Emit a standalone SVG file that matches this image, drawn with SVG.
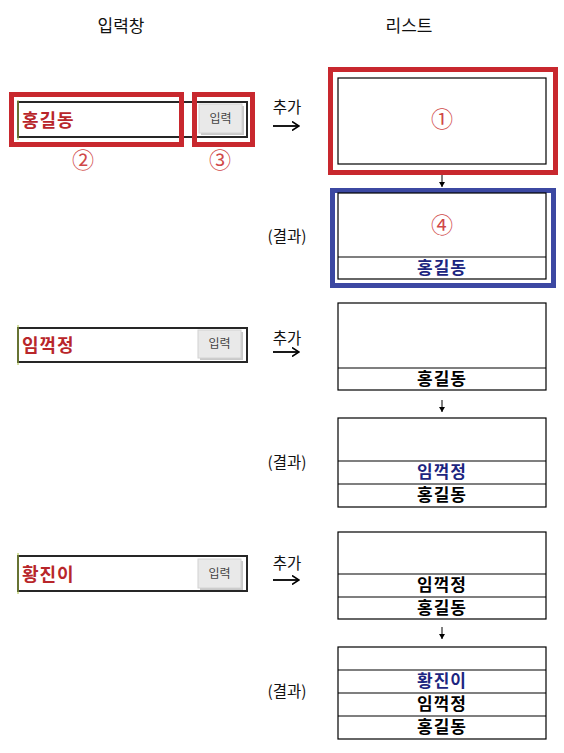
<svg xmlns="http://www.w3.org/2000/svg" width="564" height="753" viewBox="0 0 564 753">
<style>
  .kr { font-family: "Noto Sans CJK KR", "Noto Sans", sans-serif; }
  .hdr { font-size: 17px; fill: #111; text-anchor: middle; }
  .lbl { font-size: 15.5px; fill: #111; text-anchor: middle; }
  .inp { fill: #fff; stroke: #262626; stroke-width: 2; }
  .edge { stroke: #a8c040; stroke-width: 1; }
  .btn { fill: #e9e9e9; stroke: #d2d2d2; stroke-width: 1; }
  .btnsh { fill: #c9c9c9; }
  .btntx { font-size: 12px; fill: #444; text-anchor: middle; }
  .name { font-size: 18px; font-weight: bold; fill: #b8262a; letter-spacing: 1px; }
  .box { fill: #fff; stroke: #000; stroke-width: 1.2; }
  .div { stroke: #000; stroke-width: 1.2; }
  .item { font-size: 17px; font-weight: bold; fill: #000; text-anchor: middle; letter-spacing: 1px; }
  .new { fill: #1c2580; }
  .num { font-size: 22px; fill: #d04848; text-anchor: middle; }
  .hl-red { fill: none; stroke: #c8282e; stroke-width: 5; }
  .hl-blue { fill: none; stroke: #3c48a2; stroke-width: 5; }
  .conn { stroke: #000; stroke-width: 1.8; fill: none; }
  .conn-s { stroke: #000; stroke-width: 1; fill: none; }
</style>
<defs>
  <marker id="ah" markerWidth="8" markerHeight="10" refX="7" refY="5" orient="auto" markerUnits="userSpaceOnUse">
    <path d="M0,0.5 L7,5 L0,9.5" fill="none" stroke="#000" stroke-width="1.6"/>
  </marker>
  <marker id="ahs" markerWidth="6" markerHeight="6" refX="5" refY="3" orient="auto" markerUnits="userSpaceOnUse">
    <path d="M0,0 L5,3 L0,6 Z" fill="#000"/>
  </marker>
</defs>

<g id="headers" class="kr">
  <text class="hdr" x="121" y="32">입력창</text>
  <text class="hdr" x="409" y="32">리스트</text>
</g>

<!-- Row 1 -->
<g id="input1" class="kr">
  <rect class="inp" x="18" y="102" width="229" height="35"/>
  <line class="edge" x1="18" y1="100" x2="18" y2="140"/>
  <rect class="btnsh" x="201" y="106" width="43" height="29"/>
  <rect class="btn" x="199" y="104" width="43" height="29"/>
  <text class="btntx" x="220.5" y="123">입력</text>
  <text class="name" x="22" y="127">홍길동</text>
</g>
<g id="highlight2">
  <rect class="hl-red" x="11.5" y="94.5" width="170" height="50"/>
  <text class="num kr" x="83" y="168">②</text>
</g>
<g id="highlight3">
  <rect class="hl-red" x="194.5" y="94.5" width="58" height="50"/>
  <text class="num kr" x="220" y="168">③</text>
</g>
<g id="add1" class="kr"><text class="lbl" x="287" y="113">추가</text></g>
<g id="list1a">
  <rect class="hl-red" x="330.5" y="69.5" width="225" height="103"/>
  <rect class="box" x="338" y="78" width="208" height="86"/>
  <text class="num kr" x="442" y="127">①</text>
</g>
<g id="result1" class="kr"><text class="lbl" x="287" y="242">(결과)</text></g>
<g id="list1b" class="kr">
  <rect class="hl-blue" x="332.5" y="190.5" width="221" height="95"/>
  <rect class="box" x="338" y="193" width="208" height="86"/>
  <line class="div" x1="338" y1="257" x2="546" y2="257"/>
  <text class="num" x="442" y="233">④</text>
  <text class="item new" x="442" y="274">홍길동</text>
</g>

<!-- Row 2 -->
<g id="input2" class="kr">
  <rect class="inp" x="18" y="328" width="229" height="34"/>
  <line class="edge" x1="18" y1="325" x2="18" y2="365"/>
  <rect class="btnsh" x="200" y="332" width="43" height="28"/>
  <rect class="btn" x="198" y="330" width="43" height="28"/>
  <text class="btntx" x="219.5" y="348">입력</text>
  <text class="name" x="22" y="352">임꺽정</text>
</g>
<g id="add2" class="kr"><text class="lbl" x="287" y="344">추가</text></g>
<g id="list2a" class="kr">
  <rect class="box" x="338" y="303" width="208" height="87"/>
  <line class="div" x1="338" y1="368" x2="546" y2="368"/>
  <text class="item" x="442" y="385">홍길동</text>
</g>
<g id="result2" class="kr"><text class="lbl" x="287" y="468">(결과)</text></g>
<g id="list2b" class="kr">
  <rect class="box" x="338" y="418" width="208" height="89"/>
  <line class="div" x1="338" y1="461" x2="546" y2="461"/>
  <line class="div" x1="338" y1="484" x2="546" y2="484"/>
  <text class="item new" x="442" y="478">임꺽정</text>
  <text class="item" x="442" y="501">홍길동</text>
</g>

<!-- Row 3 -->
<g id="input3" class="kr">
  <rect class="inp" x="18" y="556" width="229" height="35"/>
  <line class="edge" x1="18" y1="553" x2="18" y2="594"/>
  <rect class="btnsh" x="200" y="561" width="43" height="29"/>
  <rect class="btn" x="198" y="559" width="43" height="29"/>
  <text class="btntx" x="219.5" y="578">입력</text>
  <text class="name" x="22" y="581">황진이</text>
</g>
<g id="add3" class="kr"><text class="lbl" x="287" y="569">추가</text></g>
<g id="list3a" class="kr">
  <rect class="box" x="338" y="532" width="208" height="87"/>
  <line class="div" x1="338" y1="574" x2="546" y2="574"/>
  <line class="div" x1="338" y1="597" x2="546" y2="597"/>
  <text class="item" x="442" y="591">임꺽정</text>
  <text class="item" x="442" y="614">홍길동</text>
</g>
<g id="result3" class="kr"><text class="lbl" x="287" y="697">(결과)</text></g>
<g id="list3b" class="kr">
  <rect class="box" x="338" y="647" width="208" height="92"/>
  <line class="div" x1="338" y1="670" x2="546" y2="670"/>
  <line class="div" x1="338" y1="693" x2="546" y2="693"/>
  <line class="div" x1="338" y1="716" x2="546" y2="716"/>
  <text class="item new" x="442" y="687">황진이</text>
  <text class="item" x="442" y="710">임꺽정</text>
  <text class="item" x="442" y="733">홍길동</text>
</g>

<g id="connectors">
  <line class="conn" x1="273" y1="126" x2="299" y2="126" marker-end="url(#ah)"/>
  <line class="conn" x1="273" y1="352" x2="299" y2="352" marker-end="url(#ah)"/>
  <line class="conn" x1="273" y1="580" x2="299" y2="580" marker-end="url(#ah)"/>
  <line class="conn-s" x1="442" y1="175" x2="442" y2="187" marker-end="url(#ahs)"/>
  <line class="conn-s" x1="442" y1="400" x2="442" y2="412" marker-end="url(#ahs)"/>
  <line class="conn-s" x1="442" y1="627" x2="442" y2="639" marker-end="url(#ahs)"/>
</g>
</svg>
